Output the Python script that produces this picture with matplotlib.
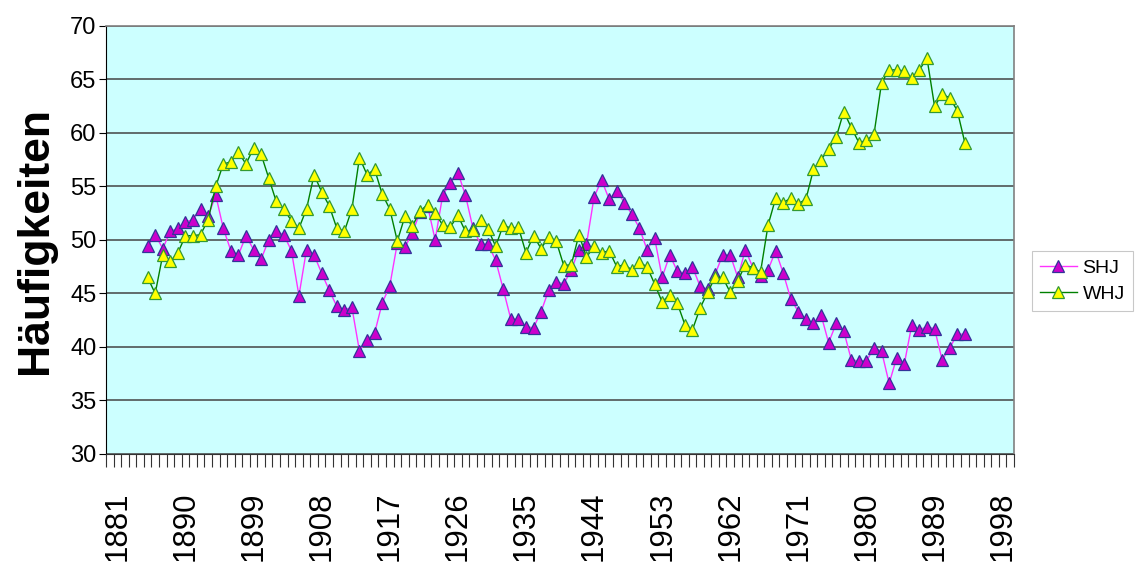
import numpy as np
import matplotlib
matplotlib.use("Agg")
import matplotlib.pyplot as plt

first_year = 1885
shj = [49.4, 50.5, 49.2, 50.8, 51.1, 51.7, 51.9, 52.9, 52.2, 54.2,
       51.1, 49.0, 48.6, 50.4, 49.1, 48.2, 50.0, 50.8, 50.5, 49.0,
       44.8, 49.1, 48.6, 46.9, 45.3, 43.8, 43.5, 43.7, 39.6, 40.7,
       41.3, 44.1, 45.7, 49.7, 49.3, 50.7, 52.6, 53.2, 50.0, 54.2,
       55.3, 56.3, 54.2, 51.1, 49.6, 49.6, 48.1, 45.4, 42.6, 42.6,
       41.9, 41.8, 43.3, 45.3, 46.1, 45.9, 47.2, 49.1, 49.6, 54.0,
       55.6, 53.8, 54.6, 53.5, 52.4, 51.1, 49.1, 50.2, 46.5, 48.6,
       47.1, 46.9, 47.5, 45.7, 45.4, 46.8, 48.6, 48.6, 46.5, 49.1,
       47.4, 46.6, 47.2, 49.0, 46.9, 44.5, 43.3, 42.6, 42.2, 43.0,
       40.4, 42.2, 41.5, 38.8, 38.7, 38.7, 39.9, 39.6, 36.6, 39.0,
       38.4, 42.1, 41.6, 41.9, 41.7, 38.8, 39.9, 41.2, 41.2]
whj = [46.5, 45.0, 48.6, 48.0, 48.8, 50.4, 50.4, 50.5, 51.9, 55.0,
       57.1, 57.3, 58.2, 57.1, 58.6, 58.0, 55.8, 53.6, 52.9, 51.8,
       51.1, 52.9, 56.1, 54.5, 53.2, 51.1, 50.8, 52.9, 57.7, 56.1,
       56.6, 54.3, 52.9, 49.9, 52.2, 51.3, 52.7, 53.3, 52.5, 51.4,
       51.2, 52.3, 50.8, 50.9, 51.9, 51.0, 49.4, 51.4, 51.1, 51.2,
       48.8, 50.4, 49.2, 50.3, 49.9, 47.6, 47.7, 50.5, 48.4, 49.4,
       48.8, 49.0, 47.5, 47.7, 47.2, 47.9, 47.5, 45.9, 44.2, 44.9,
       44.1, 42.1, 41.6, 43.6, 45.1, 46.5, 46.5, 45.1, 46.2, 47.7,
       47.4, 47.0, 51.4, 53.9, 53.5, 53.9, 53.4, 53.8, 56.6, 57.5,
       58.5, 59.6, 62.0, 60.5, 59.1, 59.3, 59.9, 64.7, 65.9, 65.9,
       65.8, 65.1, 65.9, 67.0, 62.5, 63.6, 63.3, 62.1, 59.1]
years = list(range(first_year, first_year + len(shj)))
tick_years = list(range(1881, 1999, 9))
yticks = list(range(30, 71, 5))

plt.rcParams['font.family'] = ['Liberation Sans', 'DejaVu Sans']

fig = plt.figure(figsize=(11.42, 5.70), dpi=100)
ax = fig.add_axes([106/1142, 1-454/570, (1014-106)/1142, (454-26)/570])
ax.set_facecolor('#CCFFFF')

ax.plot(years, shj, color='#FF33FF', lw=1.0, marker='^', markersize=8,
        markerfacecolor='#CC00CC', markeredgecolor='#333399', markeredgewidth=0.9,
        label='SHJ', zorder=3)
ax.plot(years, whj, color='#008000', lw=1.0, marker='^', markersize=8,
        markerfacecolor='#FFFF00', markeredgecolor='#339933', markeredgewidth=0.9,
        label='WHJ', zorder=4)

ax.set_xlim(1879.5, 1999.5)
ax.set_ylim(30, 70)
ax.set_yticks(yticks)
ax.set_yticklabels([str(v) for v in yticks], fontsize=17)
ax.yaxis.grid(True, color='#444444', lw=1.1, zorder=1)
ax.set_axisbelow(True)

ax.set_xticks(tick_years)
ax.set_xticklabels([str(y) for y in tick_years], rotation=90, fontsize=22.5)
ax.set_xticks(np.arange(1879.5, 1999.6, 1.0), minor=True)
ax.tick_params(axis='x', which='major', length=0, pad=27)
ax.tick_params(axis='x', which='minor', length=9, width=0.8, color='#333333')
ax.tick_params(axis='y', which='major', length=5, width=0.8, pad=2)

for s in ['top', 'right']:
    ax.spines[s].set_color('#808080')
    ax.spines[s].set_linewidth(1.2)
ax.spines['left'].set_color('black')
ax.spines['bottom'].set_color('#333333')

ax.set_ylabel('Häufigkeiten', fontsize=32, fontweight='bold', labelpad=10)

leg = fig.legend(loc='center left', bbox_to_anchor=(1032/1142, 1-281/570),
                 fontsize=14, frameon=True, fancybox=False, edgecolor='#BBBBBB',
                 handlelength=1.9, borderpad=0.4, labelspacing=0.45, handletextpad=0.3,
                 borderaxespad=0.0)
leg.get_frame().set_linewidth(0.8)

fig.savefig('out.png', dpi=100)
